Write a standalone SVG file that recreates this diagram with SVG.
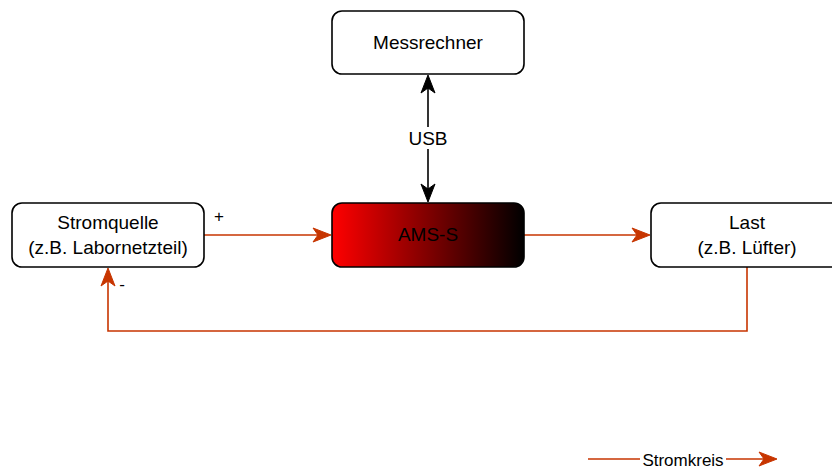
<svg xmlns="http://www.w3.org/2000/svg" width="832" height="471" viewBox="0 0 832 471">
<style>
.box{fill:#fff;stroke:#000;stroke-width:1.6}
.t{font-family:"Liberation Sans",Arial,sans-serif;font-size:19px;fill:#000;text-anchor:middle}
.or{fill:none;stroke:#C73500;stroke-width:1.6}
.bk{fill:none;stroke:#000;stroke-width:1.6}
</style>
<defs>
<linearGradient id="g" x1="0" y1="0" x2="1" y2="0">
<stop offset="0" stop-color="#ff0000"/>
<stop offset="1" stop-color="#000000"/>
</linearGradient>
<marker id="ao" viewBox="0 0 10 10" refX="9" refY="5" markerWidth="10" markerHeight="10" markerUnits="userSpaceOnUse" orient="auto" overflow="visible">
<path d="M-6,-2 L12,5 L-6,12 L-1,5 Z" fill="#C73500" stroke="#C73500" transform="translate(0,0)"/>
</marker>
<marker id="ab" viewBox="0 0 10 10" refX="9" refY="5" markerWidth="10" markerHeight="10" markerUnits="userSpaceOnUse" orient="auto-start-reverse" overflow="visible">
<path d="M-6,-2 L12,5 L-6,12 L-1,5 Z" fill="#000" stroke="#000"/>
</marker>
</defs>
<g id="connectors">
<path class="bk" d="M428,78 L428,199" marker-start="url(#ab)" marker-end="url(#ab)"/>
<rect x="406" y="127" width="44" height="22" fill="#fff"/>
<text class="t" x="428" y="145">USB</text>
<path class="or" d="M204,235 L328,235" marker-end="url(#ao)"/>
<text class="t" x="219" y="222" style="font-size:17px">+</text>
<path class="or" d="M524,235 L647,235" marker-end="url(#ao)"/>
<path class="or" d="M747,267 L747,331 L108,331 L108,271" marker-end="url(#ao)"/>
<text class="t" x="122" y="290" style="font-size:17px">-</text>
<path class="or" d="M588,459 L774,459" marker-end="url(#ao)"/>
<rect x="640" y="448" width="86" height="22" fill="#fff"/>
<text class="t" x="683" y="466" style="font-size:17px">Stromkreis</text>
</g>
<g id="messrechner">
<rect class="box" x="332" y="11" width="192" height="63" rx="10"/>
<text class="t" x="428" y="49">Messrechner</text>
</g>
<g id="stromquelle">
<rect class="box" x="12" y="203" width="192" height="64" rx="10"/>
<text class="t" x="108" y="229">Stromquelle</text>
<text class="t" x="108" y="254">(z.B. Labornetzteil)</text>
</g>
<g id="ams">
<rect x="332" y="203" width="192" height="64" rx="10" fill="url(#g)" stroke="#000" stroke-width="1.6"/>
<text class="t" x="428" y="241">AMS-S</text>
</g>
<g id="last">
<rect class="box" x="651" y="203" width="192" height="64" rx="10"/>
<text class="t" x="747" y="229">Last</text>
<text class="t" x="747" y="254">(z.B. Lüfter)</text>
</g>
</svg>
